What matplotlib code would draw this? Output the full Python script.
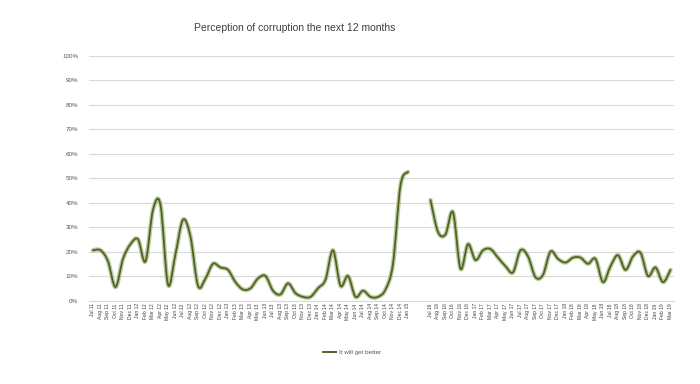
import matplotlib
matplotlib.use("Agg")
import matplotlib.pyplot as plt
from matplotlib.path import Path
from matplotlib.patches import PathPatch
import numpy as np

plt.rcParams['font.family'] = ['Liberation Sans', 'DejaVu Sans']

title = "Perception of corruption the next 12 months"
series_name = "It will get better"

labels_a = ["Jul 11", "Aug 11", "Sep 11", "Oct 11", "Nov 11", "Dec 11",
            "Jan 12", "Feb 12", "Mar 12", "Apr 12", "May 12", "Jun 12",
            "Jul 12", "Aug 12", "Sep 12", "Oct 12", "Nov 12", "Dec 12",
            "Jan 13", "Feb 13", "Mar 13", "Apr 13", "May 13", "Jun 13",
            "Jul 13", "Aug 13", "Sep 13", "Oct 13", "Nov 13", "Dec 13",
            "Jan 14", "Feb 14", "Mar 14", "Apr 14", "May 14", "Jun 14",
            "Jul 14", "Aug 14", "Sep 14", "Oct 14", "Nov 14", "Dec 14",
            "Jan 15"]
values_a = [20.5, 20.5, 16, 5.5, 17, 23, 25, 16, 37, 39,
            6.5, 19, 33, 26, 6, 9, 15, 13.5, 12.5, 7.5,
            4.5, 5, 9, 10, 4, 2.5, 7, 3, 1.5, 1.5,
            5, 8.5, 20.5, 6, 10, 1.5, 4, 1.5, 1.5, 4.5,
            15, 47, 52.5]

gap_labels = ["", ""]

labels_b = ["Jul 16", "Aug 16", "Sep 16", "Oct 16", "Nov 16", "Dec 16",
            "Jan 17", "Feb 17", "Mar 17", "Apr 17", "May 17", "Jun 17",
            "Jul 17", "Aug 17", "Sep 17", "Oct 17", "Nov 17", "Dec 17",
            "Jan 18", "Feb 18", "Mar 18", "Apr 18", "May 18", "Jun 18",
            "Jul 18", "Aug 18", "Sep 18", "Oct 18", "Nov 18", "Dec 18",
            "Jan 19", "Feb 19", "Mar 19"]
values_b = [41, 28, 27, 36, 13, 23, 16.5, 20.5, 21, 17.5,
            14, 11.5, 20.5, 18, 9.5, 10.5, 20, 17, 15.5, 17.5,
            17.5, 15, 17, 7.5, 14, 18.5, 12.5, 18, 19.5, 10,
            13.5, 7.5, 12.5]

all_labels = labels_a + gap_labels + labels_b
x_a = np.arange(len(labels_a))
x_b = np.arange(len(labels_b)) + len(labels_a) + len(gap_labels)


def smooth_path(xs, ys):
    """Excel-like smoothed line: cubic Bezier through every data point."""
    pts = np.column_stack([xs, ys]).astype(float)
    n = len(pts)
    verts = [pts[0]]
    codes = [Path.MOVETO]
    for i in range(n - 1):
        p0 = pts[i - 1] if i > 0 else pts[i]
        p1 = pts[i]
        p2 = pts[i + 1]
        p3 = pts[i + 2] if i + 2 < n else pts[i + 1]
        c1 = p1 + (p2 - p0) / 6.0
        c2 = p2 - (p3 - p1) / 6.0
        verts += [c1, c2, p2]
        codes += [Path.CURVE4] * 3
    return Path(verts, codes)


fig = plt.figure(figsize=(7, 3.84), dpi=100)
ax = fig.add_axes([0.1275, 0.2174, 0.8357, 0.638])

ax.set_xlim(-0.5, len(all_labels) - 0.5)
ax.set_ylim(0, 100)

for xs, ys in ((x_a, values_a), (x_b, values_b)):
    ax.add_patch(PathPatch(smooth_path(xs, ys), facecolor='none',
                           edgecolor='#adc087', lw=3.2, alpha=0.8,
                           capstyle='round', joinstyle='round', zorder=3))
    ax.add_patch(PathPatch(smooth_path(xs, ys), facecolor='none',
                           edgecolor='#4f6228', lw=1.3,
                           capstyle='round', joinstyle='round', zorder=4))

ax.set_yticks(np.arange(0, 101, 10))
ax.set_yticklabels([f"{v}%" for v in range(0, 101, 10)])
ax.yaxis.grid(True, color='#d9d9d9', lw=0.8)
ax.set_axisbelow(True)
ax.tick_params(axis='y', length=0, labelsize=4.5, labelcolor='#595959', pad=8)

ax.set_xticks(np.arange(len(all_labels)))
ax.set_xticklabels(all_labels, rotation=90)
ax.tick_params(axis='x', length=0, labelsize=3.6, labelcolor='#404040', pad=2)

for s in ('top', 'right', 'left'):
    ax.spines[s].set_visible(False)
ax.spines['bottom'].set_color('#d9d9d9')
ax.spines['bottom'].set_linewidth(0.8)

fig.text(0.421, 0.927, title, ha='center', va='center', fontsize=7.5,
         color='#404040')

# legend
ax.plot([], [], color='#4f6228', lw=1.4, label=series_name)
leg = fig.legend(loc='center', bbox_to_anchor=(0.503, 0.083), frameon=False,
                 fontsize=4.5, handlelength=2.2, handletextpad=0.5)
for t in leg.get_texts():
    t.set_color('#595959')

fig.savefig("out.png", dpi=100)
